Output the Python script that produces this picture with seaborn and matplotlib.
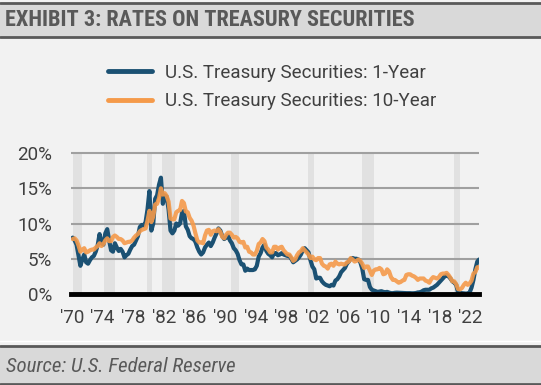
import numpy as np
import pandas as pd
import seaborn as sns
import matplotlib
matplotlib.use('Agg')
import matplotlib.pyplot as plt
from matplotlib.patches import Rectangle
from matplotlib.lines import Line2D

sns.set_style('white')
plt.rcParams['font.family'] = ['Roboto', 'DejaVu Sans']

# taxas trimestrais (%), 1970 T1 ... 2023 T1
um_ano = [
    8.0, 7.6, 7.0, 5.5,  4.0, 4.9, 5.6, 4.5,  4.3, 4.8, 5.2, 5.4,
    6.0, 6.9, 8.5, 7.2,  7.0, 8.6, 9.2, 7.6,  6.2, 6.0, 7.2, 6.6,
    6.1, 6.4, 6.0, 5.2,  5.5, 5.7, 6.3, 6.8,  7.0, 7.6, 8.2, 9.5,
    9.8, 9.7, 10.2, 12.0,  14.6, 9.0, 10.0, 13.5,  14.0, 15.5, 16.5, 12.8,
    14.0, 13.8, 12.0, 9.0,  8.6, 9.0, 10.0, 9.7,  10.0, 11.5, 11.8, 9.6,
    9.1, 8.2, 7.9, 7.8,  7.4, 6.6, 6.0, 5.6,  5.9, 6.6, 7.0, 7.3,
    6.8, 7.3, 8.0, 8.6,  9.3, 9.0, 8.2, 7.8,  8.0, 8.3, 7.6, 7.2,
    6.5, 6.2, 5.7, 4.8,  4.2, 4.2, 3.3, 3.6,  3.4, 3.4, 3.4, 3.5,
    4.0, 5.3, 5.8, 6.6,  7.0, 6.1, 5.7, 5.5,  5.2, 5.8, 5.8, 5.5,
    5.6, 5.8, 5.6, 5.5,  5.4, 5.4, 5.0, 4.5,  4.7, 4.9, 5.2, 5.6,
    6.2, 6.5, 6.2, 5.9,  4.8, 3.9, 3.5, 2.2,  2.3, 2.3, 1.8, 1.5,
    1.3, 1.2, 1.1, 1.3,  1.2, 1.9, 2.1, 2.5,  3.1, 3.4, 3.7, 4.3,
    4.6, 5.0, 5.1, 5.0,  5.0, 4.9, 4.5, 3.6,  2.1, 2.0, 2.0, 1.0,
    0.6, 0.5, 0.4, 0.3,  0.35, 0.4, 0.3, 0.25,  0.3, 0.2, 0.12, 0.12,
    0.17, 0.19, 0.18, 0.17,  0.15, 0.13, 0.12, 0.12,  0.12, 0.1, 0.11, 0.14,
    0.22, 0.24, 0.35, 0.53,  0.6, 0.6, 0.6, 0.8,  0.9, 1.1, 1.3, 1.6,
    1.9, 2.2, 2.5, 2.7,  2.5, 2.2, 1.8, 1.6,  1.3, 0.2, 0.15, 0.12,
    0.08, 0.06, 0.08, 0.2,  0.9, 2.0, 3.5, 4.6,  4.9,
]
dez_anos = [
    7.8, 7.9, 7.6, 6.9,  6.0, 6.3, 6.5, 5.9,  6.0, 6.2, 6.3, 6.3,
    6.6, 6.8, 7.2, 6.8,  7.1, 7.6, 7.9, 7.5,  7.5, 8.1, 8.3, 8.1,
    7.8, 7.8, 7.6, 7.2,  7.3, 7.4, 7.4, 7.6,  8.0, 8.3, 8.5, 8.9,
    9.1, 9.2, 9.3, 10.4,  11.8, 10.2, 11.0, 12.7,  12.8, 13.6, 15.0, 14.1,
    14.3, 13.9, 13.1, 10.7,  10.6, 10.6, 11.6, 11.8,  11.9, 13.2, 12.9, 11.7,
    11.6, 10.8, 10.4, 9.7,  8.6, 7.6, 7.3, 7.3,  7.2, 8.3, 9.0, 9.1,
    8.4, 8.9, 9.0, 8.9,  9.2, 8.8, 8.1, 7.9,  8.4, 8.7, 8.7, 8.4,
    8.0, 8.1, 7.9, 7.4,  7.3, 7.4, 6.6, 6.7,  6.0, 5.9, 5.6, 5.6,
    6.1, 7.1, 7.3, 7.8,  7.5, 6.6, 6.3, 5.9,  5.9, 6.7, 6.7, 6.3,
    6.6, 6.7, 6.2, 5.9,  5.6, 5.6, 5.2, 4.7,  4.9, 5.5, 5.9, 6.1,
    6.5, 6.2, 5.9, 5.6,  5.1, 5.3, 4.9, 4.8,  5.1, 5.1, 4.3, 4.0,
    3.9, 3.6, 4.2, 4.3,  4.0, 4.6, 4.3, 4.2,  4.3, 4.2, 4.2, 4.5,
    4.6, 5.1, 4.9, 4.6,  4.7, 4.9, 4.7, 4.3,  3.7, 3.9, 3.9, 3.3,
    2.7, 3.3, 3.5, 3.5,  3.7, 3.5, 2.8, 2.9,  3.5, 3.2, 2.4, 2.0,
    2.0, 1.8, 1.6, 1.7,  1.9, 2.0, 2.7, 2.8,  2.8, 2.6, 2.5, 2.3,
    2.0, 2.2, 2.2, 2.2,  1.9, 1.8, 1.6, 2.1,  2.4, 2.3, 2.2, 2.4,
    2.8, 2.9, 2.9, 3.0,  2.7, 2.3, 1.8, 1.8,  1.4, 0.7, 0.65, 0.85,
    1.3, 1.6, 1.3, 1.5,  1.9, 2.9, 3.1, 3.8,  3.8,
]
recessoes = [(1970.2, 1971.3), (1974.2, 1975.6), (1979.8, 1980.5),
             (1981.8, 1983.5), (1990.7, 1991.8), (2000.8, 2001.6),
             (2007.9, 2009.4), (2019.8, 2020.6)]
anos_ticks = list(range(1970, 2023, 4))
rotulos_x = ["'" + str(a)[2:] for a in anos_ticks]
valores_y = [0, 5, 10, 15, 20]
rotulos_y = ['0%', '5%', '10%', '15%', '20%']

datas = 1970 + np.arange(len(um_ano)) / 4 + 0.125
df = pd.DataFrame({'data': datas, 'um': um_ano, 'dez': dez_anos})

AZUL = '#1b5173'
LARANJA = '#f59a4a'
CINZA_TXT = '#404040'
CONDENSADA = ['Roboto Condensed', 'DejaVu Sans']

fig = plt.figure(figsize=(5.41, 3.85), dpi=100, facecolor='#f2f2f2')

# faixas de título e fonte
fig.patches.append(Rectangle((0, 1 - 37 / 385), 1, 34 / 385, transform=fig.transFigure,
                             facecolor='#d9d9d9', edgecolor='none', zorder=0))
fig.patches.append(Rectangle((0, 2 / 385), 1, 36 / 385, transform=fig.transFigure,
                             facecolor='#d9d9d9', edgecolor='none', zorder=0))
for yy in [1 - 3 / 385, 1 - 37 / 385, 1 - 346 / 385, 1 - 384 / 385]:
    fig.add_artist(Line2D([0, 1], [yy, yy], transform=fig.transFigure,
                          color='#595959', linewidth=2))
fig.add_artist(Line2D([0, 1], [1 - 341 / 385] * 2, transform=fig.transFigure,
                      color='white', linewidth=1))
fig.text(5 / 541, 1 - 20 / 385, 'EXHIBIT 3: RATES ON TREASURY SECURITIES',
         fontsize=16, fontweight='bold', color='#595959', va='center', ha='left',
         family=CONDENSADA)
fig.text(6 / 541, 1 - 366 / 385, 'Source: U.S. Federal Reserve',
         fontsize=15, fontstyle='italic', color='#595959', va='center', ha='left',
         family=CONDENSADA)

ax = fig.add_axes([71 / 541, 1 - 294 / 385, (479 - 71) / 541, (294 - 150.2) / 385])
ax.set_facecolor('#f2f2f2')

for a, b in recessoes:
    ax.axvspan(a, b, ymin=0, ymax=20 / 20.4, color='#e1e1e1', zorder=0, linewidth=0)

for v in valores_y[1:]:
    ax.axhline(v, color='#a0a0a0', linewidth=1.5, zorder=1)

sns.lineplot(data=df, x='data', y='um', ax=ax, color=AZUL, linewidth=3.0,
             label='U.S. Treasury Securities: 1-Year', zorder=3)
sns.lineplot(data=df, x='data', y='dez', ax=ax, color=LARANJA, linewidth=3.0, alpha=0.9,
             label='U.S. Treasury Securities: 10-Year', zorder=4)

ax.set_xlim(1969.9, 2023.1)
ax.set_ylim(0, 20.4)
ax.set_xticks(anos_ticks)
ax.set_xticklabels(rotulos_x)
ax.set_yticks(valores_y)
ax.set_yticklabels(rotulos_y)
ax.set_xlabel('')
ax.set_ylabel('')

for s in ['top', 'right', 'left']:
    ax.spines[s].set_visible(False)
ax.spines['bottom'].set_color('black')
ax.spines['bottom'].set_linewidth(3.5)
ax.spines['bottom'].set_zorder(5)
ax.tick_params(axis='x', direction='out', length=4, width=3, color='black',
               labelsize=13.5, labelcolor=CINZA_TXT, pad=7)
ax.tick_params(axis='y', length=0, labelsize=13.5, labelcolor=CINZA_TXT, pad=13.5)

ax.legend(loc='upper left', bbox_to_anchor=(108 / 541, 1 - 64 / 385),
          bbox_transform=fig.transFigure, frameon=False, fontsize=13.5,
          borderaxespad=0, borderpad=0,
          handlelength=2.35, handletextpad=0.7, labelspacing=0.55,
          labelcolor=CINZA_TXT)
for ln in ax.get_legend().get_lines():
    ln.set_linewidth(3.5)
    ln.set_alpha(1)

fig.savefig('out.png', dpi=100, facecolor=fig.get_facecolor())
